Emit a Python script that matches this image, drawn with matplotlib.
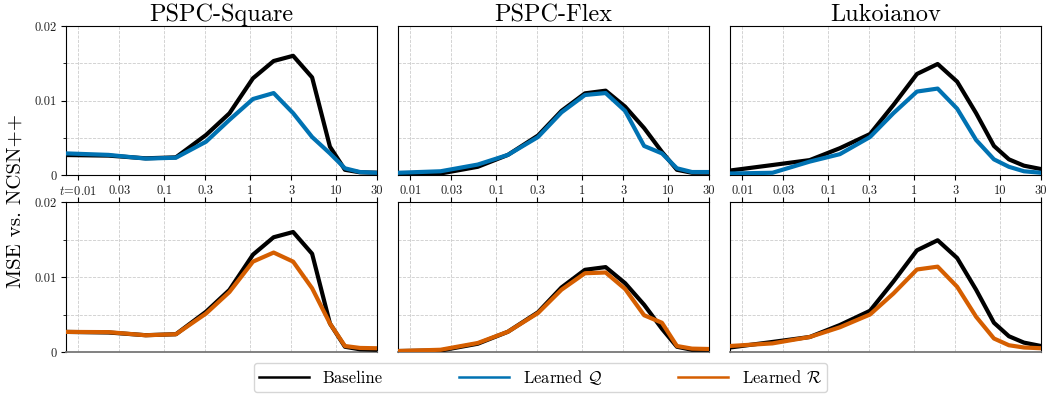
import numpy as np
import matplotlib
matplotlib.use('Agg')
import matplotlib.pyplot as plt
from matplotlib.lines import Line2D
from matplotlib.ticker import FixedLocator

plt.rcParams['font.family'] = 'serif'
plt.rcParams['font.serif'] = ['cmr10', 'DejaVu Serif']
plt.rcParams['mathtext.fontset'] = 'cm'
plt.rcParams['axes.formatter.use_mathtext'] = True

# noise levels t (log axis)
t = [0.0072, 0.0225, 0.061, 0.137, 0.307, 0.575, 1.08, 1.88, 3.17, 5.27, 8.5, 12.7, 19.0, 30.0]

titres = ['PSPC-Square', 'PSPC-Flex', 'Lukoianov']

# baseline MSE
base_square = [0.00268, 0.0026, 0.00224, 0.00237, 0.00537, 0.00828, 0.01298, 0.0153, 0.0160, 0.0131, 0.0038, 0.0007, 0.00036, 0.0003]
base_flex = [0.00013, 0.0002, 0.0011, 0.0027, 0.0053, 0.0086, 0.01096, 0.01132, 0.00917, 0.0063, 0.0031, 0.0007, 0.0003, 0.0003]
base_luko = [0.0006, 0.00134, 0.0020, 0.0036, 0.0055, 0.0094, 0.01356, 0.0149, 0.01253, 0.0083, 0.0039, 0.0021, 0.00125, 0.0008]

# learned Q
q_square = [0.0029, 0.0027, 0.0022, 0.00232, 0.00447, 0.0074, 0.0102, 0.0110, 0.0083, 0.0051, 0.0029, 0.0009, 0.0004, 0.0003]
q_flex = [0.0003, 0.0005, 0.0014, 0.0027, 0.0051, 0.0084, 0.01074, 0.0110, 0.0086, 0.0039, 0.0029, 0.0009, 0.0004, 0.0004]
q_luko = [0.0002, 0.0003, 0.0018, 0.0028, 0.0051, 0.0083, 0.0112, 0.0116, 0.0089, 0.0047, 0.0021, 0.0011, 0.0005, 0.0003]

# learned R
r_square = [0.00268, 0.00265, 0.00223, 0.00237, 0.00513, 0.0080, 0.01205, 0.01326, 0.01205, 0.0085, 0.0038, 0.0008, 0.00054, 0.0005]
r_flex = [0.00013, 0.0003, 0.0012, 0.0027, 0.0052, 0.0083, 0.0105, 0.0106, 0.0084, 0.0049, 0.0039, 0.0008, 0.00045, 0.0004]
r_luko = [0.0008, 0.00115, 0.0020, 0.0033, 0.0050, 0.0078, 0.0110, 0.01138, 0.0087, 0.0047, 0.0018, 0.0009, 0.0006, 0.0005]

xticks = [0.01, 0.03, 0.1, 0.3, 1, 3, 10, 30]
xlabels = ['0.01', '0.03', '0.1', '0.3', '1', '3', '10', '30']
yticks = [0, 0.01, 0.02]
ylabels = ['0', '0.01', '0.02']

c_base = 'black'
c_q = '#0072B2'
c_r = '#D55E00'

base = [base_square, base_flex, base_luko]
learnedQ = [q_square, q_flex, q_luko]
learnedR = [r_square, r_flex, r_luko]

fig = plt.figure(figsize=(10.47, 4.0), dpi=100)
W, H = 1047, 400
lefts = [66, 398, 730]
largeur = 311
rows = [(26, 175), (202, 352)]

for r, (top, bot) in enumerate(rows):
    for c in range(3):
        ax = fig.add_axes([lefts[c] / W, 1 - bot / H, largeur / W, (bot - top) / H])
        ax.plot(t, base[c], color=c_base, lw=3, zorder=3)
        if r == 0:
            ax.plot(t, learnedQ[c], color=c_q, lw=3, zorder=4)
        else:
            ax.plot(t, learnedR[c], color=c_r, lw=3, zorder=4)
        ax.set_xscale('log')
        ax.set_xlim(0.0072, 30)
        ax.set_ylim(0, 0.02)
        ax.xaxis.set_major_locator(FixedLocator(xticks))
        ax.xaxis.set_minor_locator(FixedLocator([]))
        ax.yaxis.set_major_locator(FixedLocator(yticks))
        ax.yaxis.set_minor_locator(FixedLocator([0.005, 0.015]))
        ax.grid(True, which='both', ls='--', lw=0.6, color='#cccccc', zorder=0)
        ax.tick_params(labelsize=9, direction='out', labelcolor='#222222')
        if r == 0:
            labs = list(xlabels)
            if c == 0:
                labs[0] = r'$t\!=\!0.01$'
            ax.set_xticklabels(labs)
            ax.set_title(titres[c], fontsize=17.5, pad=3)
        else:
            ax.xaxis.tick_top()
            ax.tick_params(axis='x', labeltop=False)
            ax.spines['bottom'].set_color('#777777')
            ax.spines['bottom'].set_linewidth(1.3)
        if c == 0:
            ax.set_yticklabels(ylabels)
        else:
            ax.tick_params(axis='y', which='both', left=False, labelleft=False)

fig.text(16 / W, 1 - 201 / H, 'MSE vs. NCSN++', rotation=90, fontsize=15,
         ha='center', va='center')

handles = [Line2D([], [], color=c_base, lw=1.8),
           Line2D([], [], color=c_q, lw=1.8),
           Line2D([], [], color=c_r, lw=1.8)]
fig.legend(handles, ['Baseline', r'Learned $\mathcal{Q}$', r'Learned $\mathcal{R}$'],
           loc='center', bbox_to_anchor=(540.5 / W, 1 - 377.5 / H), ncol=3,
           fontsize=12, handlelength=3.0, columnspacing=4.6, frameon=True,
           borderpad=0.3)

plt.savefig('out.png', dpi=100)
